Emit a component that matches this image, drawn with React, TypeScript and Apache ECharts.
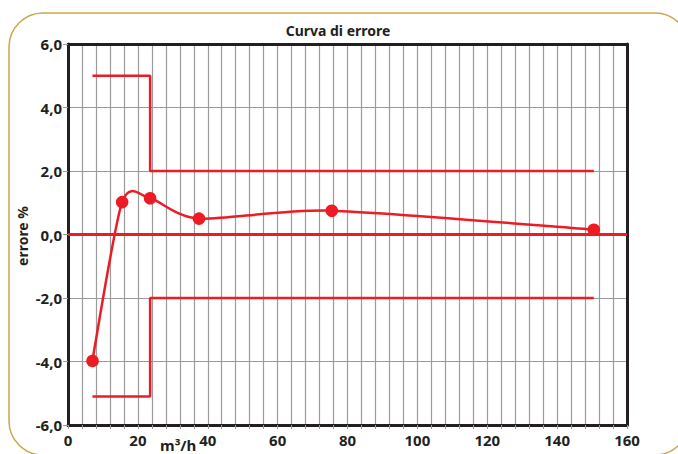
import React, { useEffect, useRef } from "react";
import * as echarts from "echarts";

const flowRate = [7, 15.5, 23.5, 37.5, 75.5, 150.5];
const errorPct = [-3.95, 1.02, 1.14, 0.5, 0.75, 0.15];
const limitX = [7, 23.5, 23.5, 150.5];
const upperLimit = [5, 5, 2, 2];
const lowerLimit = [-5.1, -5.1, -2, -2];
const zeroX = [0, 160];
const zeroY = [0, 0];

const RED = "#ED1C24";
const DARK = "#231F20";
const GRID = "#9b9b9b";
const FONT = "Noto Sans";
const TENSION = 0.13;

const zip = (xs: number[], ys: number[]) => xs.map((x, i) => [x, ys[i]]);

export default function App() {
  const ref = useRef<HTMLDivElement>(null);
  useEffect(() => {
    if (!ref.current) return;
    const chart = echarts.init(ref.current, null, { renderer: "svg" });
    const hiddenAxis = {
      axisLabel: { show: false },
      axisTick: { show: false },
      splitLine: { show: false },
      axisLine: { show: true, onZero: false, lineStyle: { color: DARK, width: 3 } },
    };
    const n = flowRate.length;
    const renderCurve = (params: any, api: any) => {
      const i = params.dataIndex;
      const pt = (k: number) => {
        const j = Math.max(0, Math.min(n - 1, k));
        return api.coord([flowRate[j], errorPct[j]]);
      };
      const children: any[] = [];
      if (i < n - 1) {
        const p0 = pt(i - 1);
        const p1 = pt(i);
        const p2 = pt(i + 1);
        const p3 = pt(i + 2);
        children.push({
          type: "bezierCurve",
          shape: {
            x1: p1[0],
            y1: p1[1],
            x2: p2[0],
            y2: p2[1],
            cpx1: p1[0] + (p2[0] - p0[0]) * TENSION,
            cpy1: p1[1] + (p2[1] - p0[1]) * TENSION,
            cpx2: p2[0] - (p3[0] - p1[0]) * TENSION,
            cpy2: p2[1] - (p3[1] - p1[1]) * TENSION,
          },
          style: { stroke: RED, lineWidth: 2.5, fill: "none" },
          z2: 1,
        });
      }
      const c = pt(i);
      children.push({
        type: "circle",
        shape: { cx: c[0], cy: c[1], r: 6.3 },
        style: { fill: RED },
        z2: 2,
      });
      return { type: "group", children };
    };
    chart.setOption({
      animation: false,
      backgroundColor: "#fff",
      grid: { left: 68, right: 51, top: 44, bottom: 29 },
      graphic: [
        {
          type: "rect",
          shape: { x: 9, y: 13, width: 680, height: 442, r: 34 },
          style: { fill: "none", stroke: "#C9A84C", lineWidth: 1.5 },
          z: -1,
        },
        {
          type: "text",
          x: 338,
          y: 30,
          style: {
            text: "Curva di errore",
            font: `bold 14px "${FONT}"`,
            fill: DARK,
            textAlign: "center",
            textVerticalAlign: "middle",
          },
        },
        {
          type: "text",
          x: 22,
          y: 236,
          rotation: Math.PI / 2,
          style: {
            text: "errore %",
            font: `bold 14px "${FONT}"`,
            fill: DARK,
            textAlign: "center",
            textVerticalAlign: "middle",
          },
        },
        {
          type: "text",
          x: 160,
          y: 437,
          style: {
            text: "m³/h",
            font: `bold 15px "${FONT}"`,
            fill: DARK,
            textAlign: "left",
            textVerticalAlign: "top",
          },
        },
      ],
      xAxis: [
        {
          type: "value",
          min: 0,
          max: 160,
          interval: 20,
          axisLine: { show: true, onZero: false, lineStyle: { color: DARK, width: 3 } },
          axisTick: { show: true, length: 4, lineStyle: { color: GRID } },
          minorTick: { show: true, splitNumber: 5, length: 4, lineStyle: { color: GRID } },
          splitLine: { show: true, showMinLine: false, showMaxLine: false, lineStyle: { color: GRID, width: 1.2 } },
          minorSplitLine: { show: true, lineStyle: { color: GRID, width: 1.2 } },
          axisLabel: { color: DARK, fontFamily: FONT, fontWeight: "bold", fontSize: 15, margin: 7 },
        },
        { type: "value", min: 0, max: 160, position: "top", ...hiddenAxis },
      ],
      yAxis: [
        {
          type: "value",
          min: -6,
          max: 6,
          interval: 2,
          axisLine: { show: true, onZero: false, lineStyle: { color: DARK, width: 3 } },
          axisTick: { show: true, length: 5, lineStyle: { color: GRID } },
          splitLine: { show: true, showMinLine: false, showMaxLine: false, lineStyle: { color: GRID, width: 1.2 } },
          axisLabel: {
            color: DARK,
            fontFamily: FONT,
            fontWeight: "bold",
            fontSize: 15,
            margin: 6,
            formatter: (v: number) => v.toFixed(1).replace(".", ","),
          },
        },
        { type: "value", min: -6, max: 6, position: "right", ...hiddenAxis },
      ],
      series: [
        {
          type: "line",
          data: zip(zeroX, zeroY),
          symbol: "none",
          lineStyle: { color: RED, width: 3 },
          z: 3,
        },
        {
          type: "line",
          data: zip(limitX, upperLimit),
          symbol: "none",
          lineStyle: { color: RED, width: 2.5 },
          z: 3,
        },
        {
          type: "line",
          data: zip(limitX, lowerLimit),
          symbol: "none",
          lineStyle: { color: RED, width: 2.5 },
          z: 3,
        },
        {
          type: "custom",
          data: zip(flowRate, errorPct),
          encode: { x: 0, y: 1 },
          renderItem: renderCurve,
          clip: false,
          z: 4,
        },
      ],
    });
    return () => chart.dispose();
  }, []);
  return (
    <div
      ref={ref}
      style={{ position: "fixed", left: 0, top: 0, width: 678, height: 454 }}
    />
  );
}
